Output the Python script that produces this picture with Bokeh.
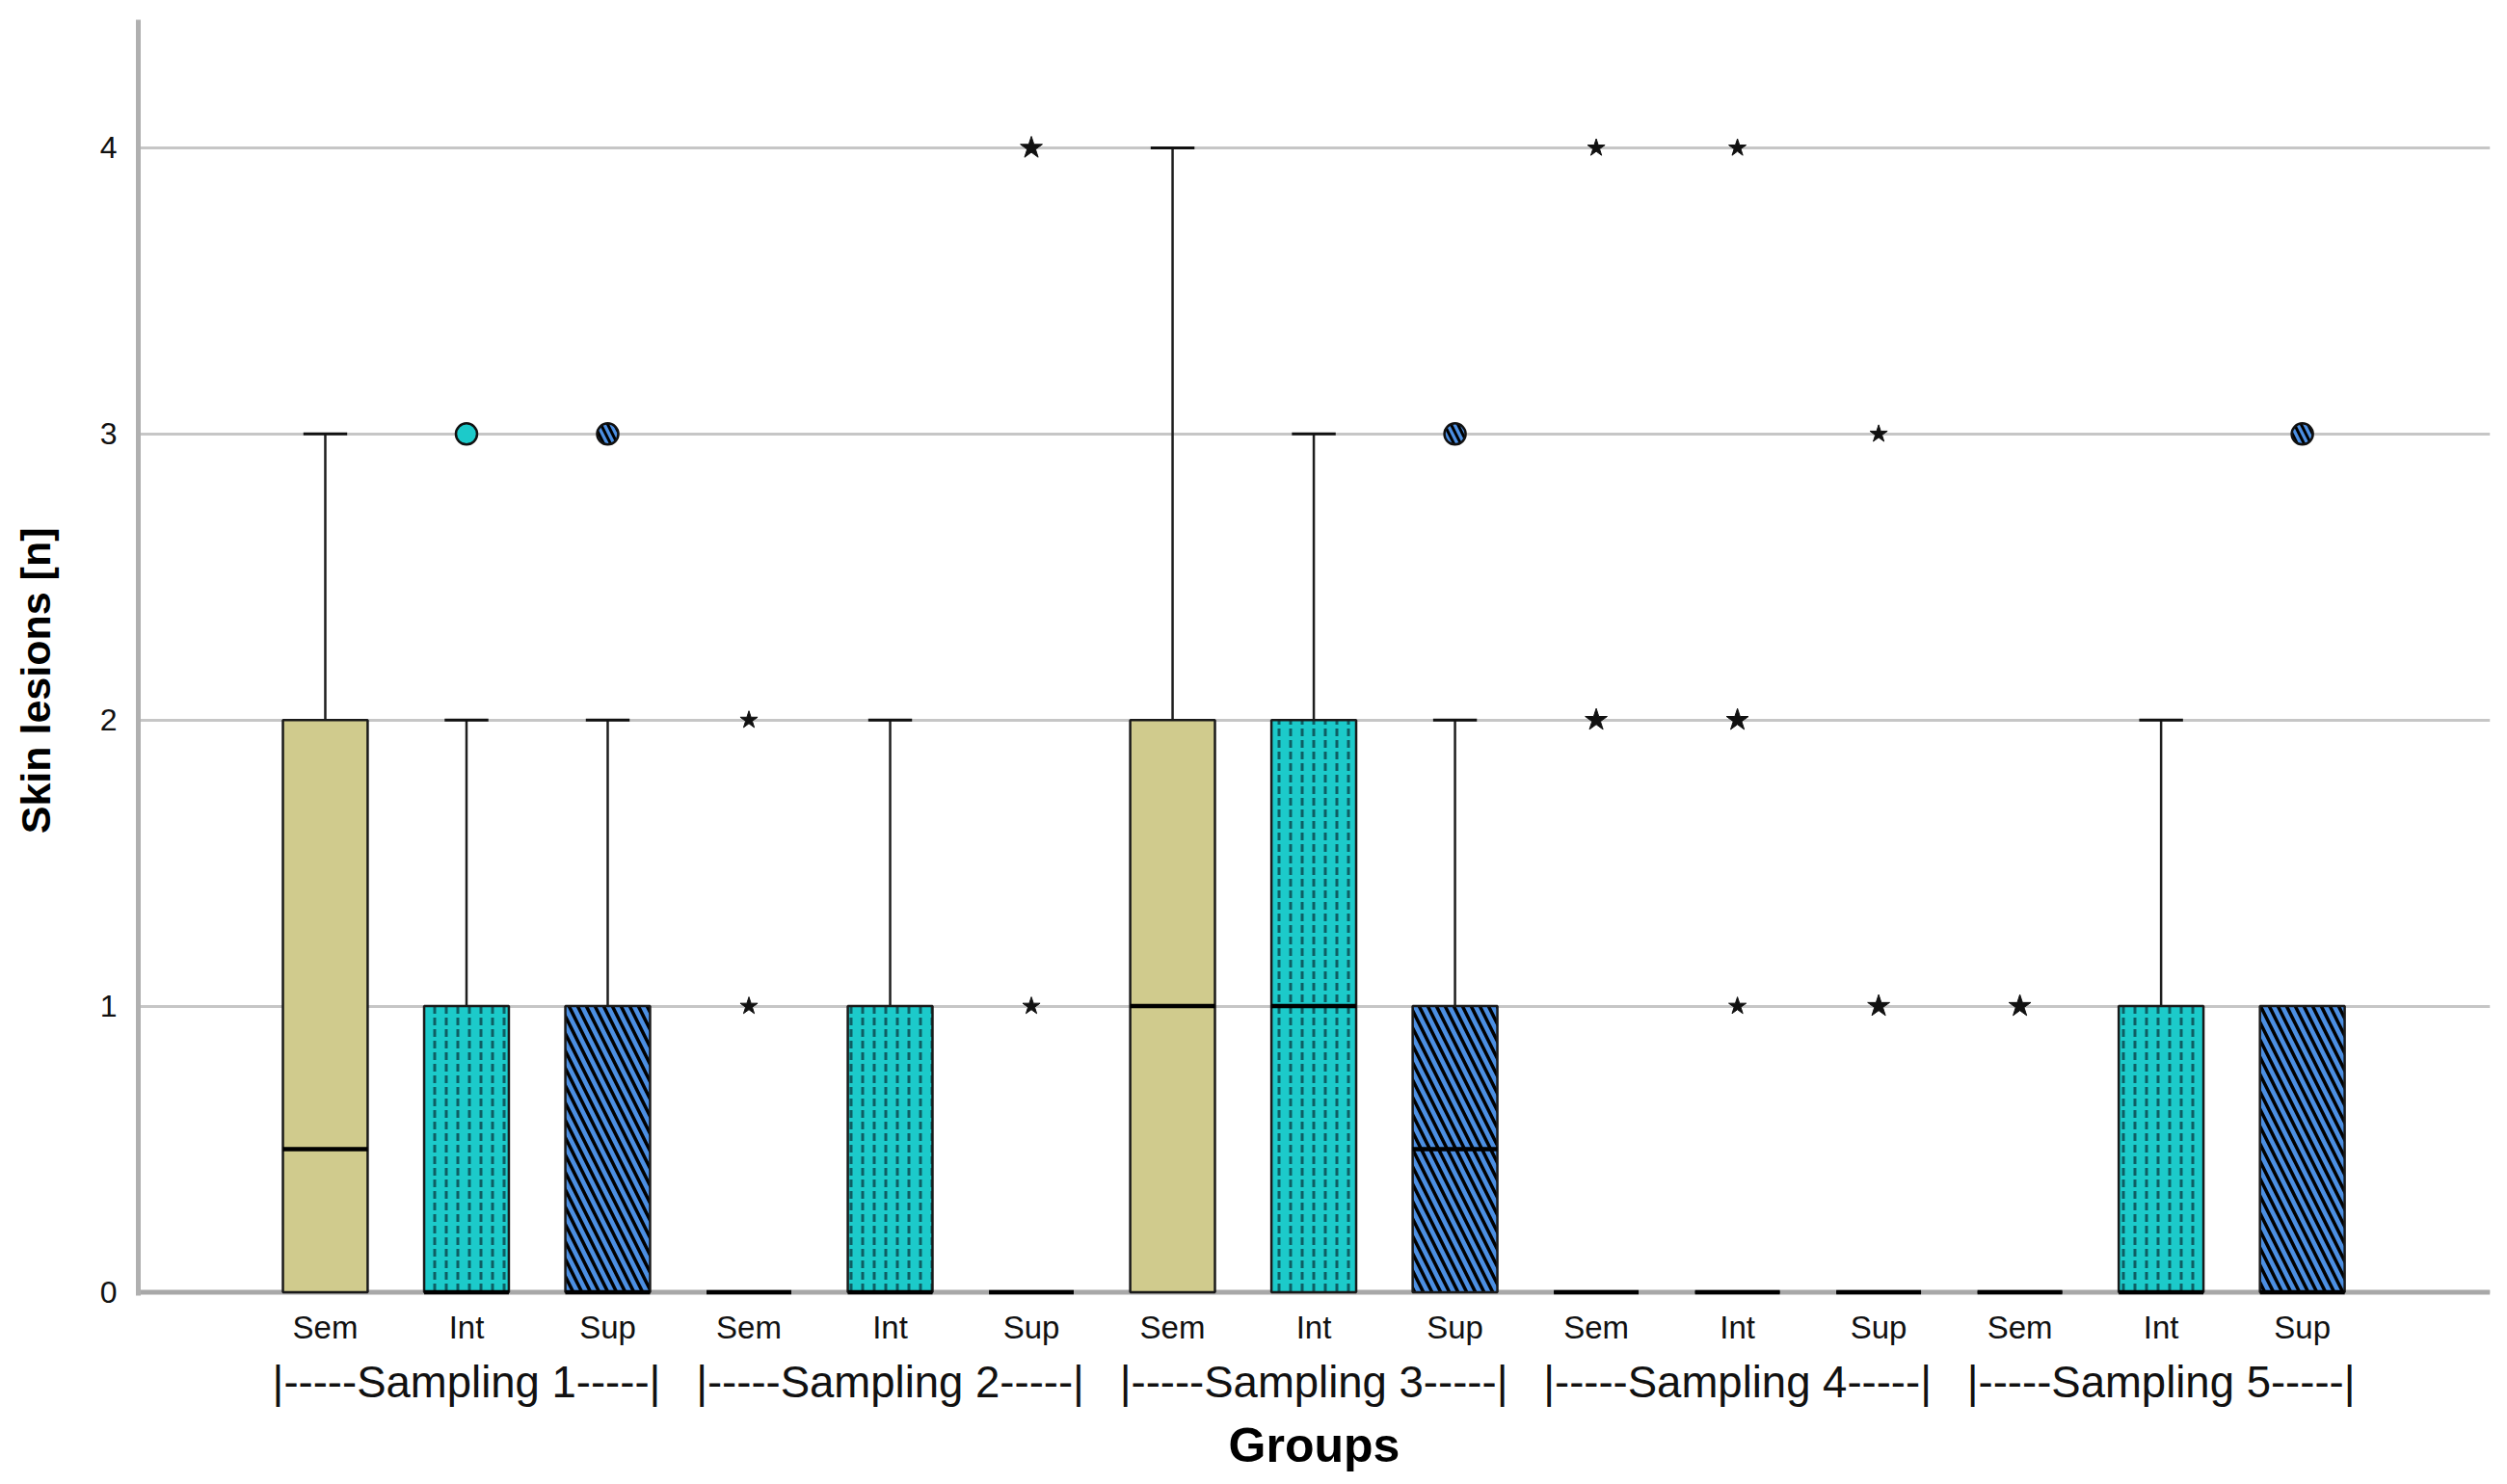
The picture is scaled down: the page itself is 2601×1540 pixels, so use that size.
from bokeh.plotting import figure
from bokeh.models import FixedTicker, LinearAxis, Range1d, Span, ColumnDataSource
from bokeh.embed import file_html
from bokeh.resources import INLINE

# ---- data ----
groups = ["Sem", "Int", "Sup"] * 5
sampling_labels = ["|-----Sampling 1-----|", "|-----Sampling 2-----|", "|-----Sampling 3-----|",
                   "|-----Sampling 4-----|", "|-----Sampling 5-----|"]
q1 = [0, 0, 0, 0, 0, 0, 0, 0, 0, 0, 0, 0, 0, 0, 0]
median = [0.5, 0, 0, 0, 0, 0, 1, 1, 0.5, 0, 0, 0, 0, 0, 0]
q3 = [2, 1, 1, 0, 1, 0, 2, 2, 1, 0, 0, 0, 0, 1, 1]
whisker_hi = [3, 2, 2, 0, 2, 0, 4, 3, 2, 0, 0, 0, 0, 2, 1]
outlier_idx = [1, 2, 8, 14]
outlier_val = [3, 3, 3, 3]
extreme_idx = [3, 3, 5, 5, 9, 9, 10, 10, 10, 11, 11, 12]
extreme_val = [1, 2, 1, 4, 2, 4, 1, 2, 4, 1, 3, 1]
extreme_bold = [0, 0, 0, 1, 1, 0, 0, 1, 0, 1, 0, 1]
y_ticks = [0, 1, 2, 3, 4]
y_title = "Skin lesions [n]"
x_title = "Groups"

FONT = "Liberation Sans"
fill = {"Sem": "#D0CB8D", "Int": "#1CCACA", "Sup": "#4C8FE2"}
hatch = {"Sem": " ", "Int": ":", "Sup": "\\"}
hatch_col = {"Sem": "#000000", "Int": "#0E5E63", "Sup": "#000000"}
hatch_sc = {"Sem": 12, "Int": 12, "Sup": 18}
hatch_w = {"Sem": 1, "Int": 3, "Sup": 3.5}
out_hatch = {"Sem": " ", "Int": " ", "Sup": "\\"}

BW = 0.60
CW = 0.31

p = figure(width=2593, height=1532, output_backend="svg", toolbar_location=None,
           x_range=Range1d(-1.324, 15.33), y_range=Range1d(-0.012, 4.448),
           min_border_left=143, min_border_right=10, min_border_top=20, min_border_bottom=188)
p.outline_line_color = None
p.background_fill_color = "white"
p.border_fill_color = "white"

# grid
p.xgrid.visible = False
p.ygrid.grid_line_color = "#C6C6C6"
p.ygrid.grid_line_width = 3

# y axis
p.yaxis.ticker = FixedTicker(ticks=y_ticks)
p.yaxis.axis_line_color = "#B0B0B0"
p.yaxis.axis_line_width = 5
p.yaxis.major_tick_line_color = None
p.yaxis.minor_tick_line_color = None
p.yaxis.major_label_text_font = FONT
p.yaxis.major_label_text_font_size = "32px"
p.yaxis.major_label_text_color = "#111111"
p.yaxis.major_label_standoff = 16
# trailing no-break spaces move the visible title slightly below the frame centre, as in the original
p.yaxis.axis_label = y_title + "\u00a0" * 4
p.yaxis.axis_label_text_font = FONT
p.yaxis.axis_label_text_font_style = "bold"
p.yaxis.axis_label_text_font_size = "43px"
p.yaxis.axis_label_text_color = "#000000"
p.yaxis.axis_label_standoff = 40

# x axis (groups)
xs = list(range(len(groups)))
p.xaxis.ticker = FixedTicker(ticks=xs)
p.xaxis.major_label_overrides = {i: g for i, g in enumerate(groups)}
p.xaxis.axis_line_color = None
p.xaxis.major_tick_line_color = None
p.xaxis.minor_tick_line_color = None
p.xaxis.major_label_text_font = FONT
p.xaxis.major_label_text_font_size = "33px"
p.xaxis.major_label_text_color = "#111111"
p.xaxis.major_label_standoff = 8

# second x axis (samplings)
samp_ticks = [1, 4, 7, 10, 13]
ax2 = LinearAxis(ticker=FixedTicker(ticks=samp_ticks),
                 major_label_overrides={t: s for t, s in zip(samp_ticks, sampling_labels)},
                 axis_line_color=None, major_tick_line_color=None, minor_tick_line_color=None,
                 major_label_text_font=FONT, major_label_text_font_size="45.5px",
                 major_label_text_color="#111111", major_label_standoff=4,
                 axis_label=x_title, axis_label_text_font=FONT,
                 axis_label_text_font_style="bold", axis_label_text_font_size="50px",
                 axis_label_text_color="#000000", axis_label_standoff=9)
p.add_layout(ax2, "below")

# x axis line at zero (beneath the boxes)
p.add_layout(Span(location=0, dimension="width", line_color="#A8A8A8", line_width=5,
                  level="underlay"))

# whiskers
wx = [i for i in xs if whisker_hi[i] > q3[i]]
wsrc = ColumnDataSource(dict(x=wx, y0=[q3[i] for i in wx], y1=[whisker_hi[i] for i in wx],
                             cl=[i - CW / 2 for i in wx], cr=[i + CW / 2 for i in wx]))
p.segment(x0="x", y0="y0", x1="x", y1="y1", source=wsrc, line_color="#1E1E1E", line_width=2.5)
p.segment(x0="cl", y0="y1", x1="cr", y1="y1", source=wsrc, line_color="#111111", line_width=3)

# boxes
for g in ["Sem", "Int", "Sup"]:
    idx = [i for i in xs if groups[i] == g]
    src = ColumnDataSource(dict(l=[i - BW / 2 for i in idx], r=[i + BW / 2 for i in idx],
                                b=[q1[i] for i in idx], t=[q3[i] for i in idx]))
    p.quad(left="l", right="r", bottom="b", top="t", source=src,
           fill_color=fill[g], line_color="#1A1A1A", line_width=2.5,
           hatch_pattern=hatch[g], hatch_color=hatch_col[g],
           hatch_scale=hatch_sc[g], hatch_weight=hatch_w[g])

# medians
msrc = ColumnDataSource(dict(l=[i - BW / 2 for i in xs], r=[i + BW / 2 for i in xs], m=median))
p.segment(x0="l", y0="m", x1="r", y1="m", source=msrc, line_color="#000000", line_width=4.5)

# outliers (circles)
osrc = ColumnDataSource(dict(x=outlier_idx, y=outlier_val,
                             c=[fill[groups[i]] for i in outlier_idx],
                             h=[out_hatch[groups[i]] for i in outlier_idx]))
p.scatter(x="x", y="y", source=osrc, marker="circle", size=22, fill_color="c",
          line_color="#111111", line_width=2.5, hatch_pattern="h", hatch_color="#000000",
          hatch_scale=14, hatch_weight=3)

# extremes (stars)
ssrc = ColumnDataSource(dict(x=extreme_idx, y=extreme_val,
                             s=[24 if b else 19 for b in extreme_bold]))
p.scatter(x="x", y="y", size="s", source=ssrc, marker="star", fill_color="#111111",
          line_color="#111111", line_width=1)

open("out.html", "w").write(file_html(p, INLINE))
